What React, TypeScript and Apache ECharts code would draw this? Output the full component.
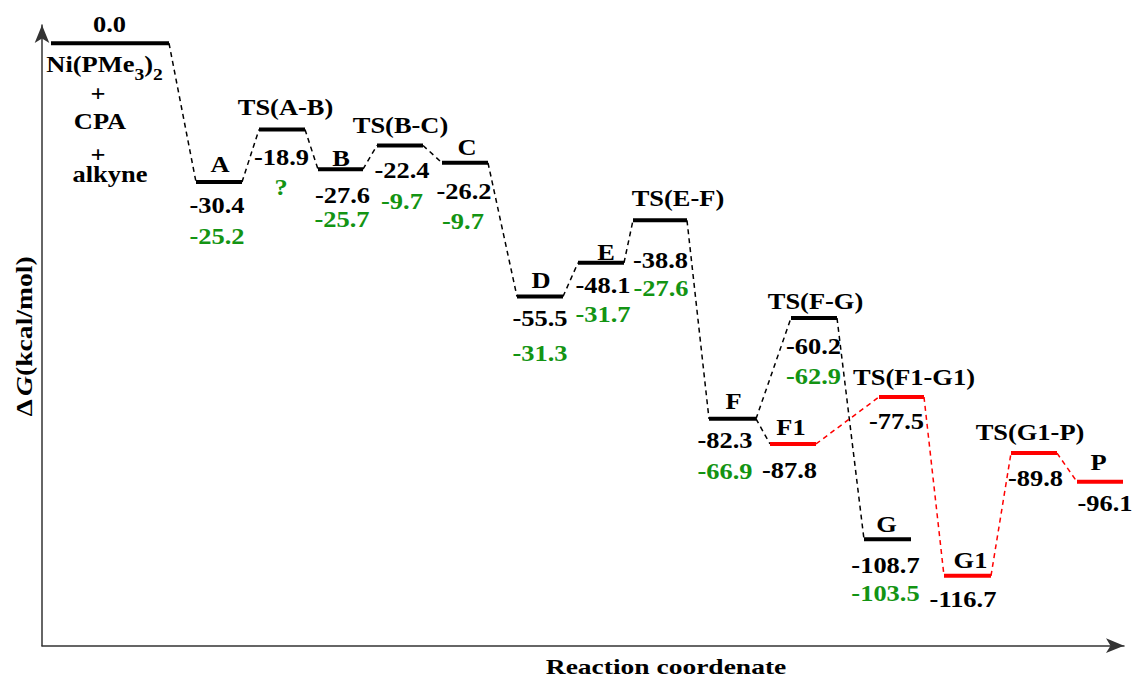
import React, { useEffect, useRef } from "react";
import * as echarts from "echarts";

// Free-energy profile of the Ni(PMe3)2 / CPA / alkyne reaction.
const STATE_NAMES = [
  "", "A", "TS(A-B)", "B", "TS(B-C)", "C", "D", "E", "TS(E-F)",
  "F", "TS(F-G)", "F1", "TS(F1-G1)", "G", "G1", "TS(G1-P)", "P",
];
const DELTA_G = [
  0.0, -30.4, -18.9, -27.6, -22.4, -26.2, -55.5, -48.1, -38.8,
  -82.3, -60.2, -87.8, -77.5, -108.7, -116.7, -89.8, -96.1,
];
// Second set of values (green); "?" where unknown, null where absent.
const DELTA_G_ALT: (number | string | null)[] = [
  null, -25.2, "?", -25.7, -9.7, -9.7, -31.3, -31.7, -27.6,
  -66.9, -62.9, null, null, -103.5, null, null, null,
];
// Extent of each state along the reaction coordinate.
const COORD_START = [9, 154, 217, 276, 335, 400, 475, 536, 591, 667, 749, 728, 837, 822, 902, 969, 1035];
const COORD_END = [127, 200, 263, 321, 381, 446, 521, 582, 645, 714, 795, 774, 882, 869, 949, 1015, 1081];
// "main" = black pathway, "alt" = red pathway
const PATHWAY = [
  "main", "main", "main", "main", "main", "main", "main", "main", "main",
  "main", "main", "alt", "alt", "main", "alt", "alt", "alt",
];
// Dashed connections between consecutive states [from, to]
const LINKS: [number, number][] = [
  [0, 1], [1, 2], [2, 3], [3, 4], [4, 5], [5, 6], [6, 7], [7, 8], [8, 9],
  [9, 10], [10, 13], [9, 11], [11, 12], [12, 14], [14, 15], [15, 16],
];
const REACTANT_LINES = ["{m|Ni(PMe}{s|3}{m|)}{s|2}", "+", "CPA", "+", "alkyne"];

// Label placement around each level: [nameDx, nameDy, valueDx, valueDy, altDx, altDy]
const LABEL_LAYOUT: number[][] = [
  [0, 0, -0.5, -18.8, 0, 0],
  [1, -17.6, -2, 22.9, -2, 54],
  [3.5, -22.1, -0.5, 27.9, -1, 57.4],
  [0.5, -11.5, 2, 26.2, 1.5, 50.2],
  [0.5, -20.1, 2, 24.9, 2, 55.9],
  [2, -15.4, -1, 28.6, -2, 58.6],
  [1, -16.2, 0, 21.8, 0, 56.3],
  [5, -10.4, 2, 22.1, 2, 51.1],
  [18, -21.9, 0.5, 39.6, 1, 68.1],
  [1, -17.5, -7.5, 21, -7.5, 52.5],
  [1.5, -17.1, -0.5, 27.9, -0.5, 57.9],
  [-2, -17.1, -3.5, 25.9, 0, 0],
  [12.5, -20.1, -5, 24.4, 0, 0],
  [-1, -15.5, -2, 25.5, -2, 54],
  [3, -16, -4.5, 23, 0, 0],
  [-4, -21.2, 1.5, 25.3, 0, 0],
  [-1.5, -19.5, 5, 21.5, 0, 0],
];
// Reactant text lines under the starting level: [dx, dy]
const REACTANT_LAYOUT: number[][] = [
  [-5.5, 21.2],
  [-12, 49.9],
  [-10, 78],
  [-12, 110.9],
  [0, 130.9],
];

const SERIF = "Liberation Serif";
const STRETCH = 1.15;
const PATH_COLORS: Record<string, string> = { main: "#000000", alt: "#ff0000" };
const GREEN = "#139413";
const AXIS_COLOR = "#333333";

function label(text: string, x: number, y: number, fill: string) {
  return {
    type: "text",
    x,
    y,
    scaleX: STRETCH,
    style: {
      text,
      align: "center",
      verticalAlign: "middle",
      fontFamily: SERIF,
      fontWeight: "bold",
      fontSize: 23,
      fill,
    },
  };
}

export default function App() {
  const ref = useRef<HTMLDivElement>(null);

  useEffect(() => {
    if (!ref.current) return;
    document.body.style.margin = "0";
    const chart = echarts.init(ref.current, null, { renderer: "svg" });

    const levelData = STATE_NAMES.map((_, i) => [COORD_START[i], COORD_END[i], DELTA_G[i], i]);
    const linkData = LINKS.map(([a, b]) => [COORD_END[a], DELTA_G[a], COORD_START[b], DELTA_G[b], a]);

    const option: any = {
      animation: false,
      grid: { left: 42, right: 10, top: 25, bottom: 31.3 },
      xAxis: {
        type: "value",
        min: 0,
        max: 1082,
        axisLine: {
          show: true,
          onZero: false,
          symbol: ["none", "arrow"],
          symbolSize: [11, 18],
          lineStyle: { color: AXIS_COLOR, width: 1.5 },
        },
        axisTick: { show: false },
        axisLabel: { show: false },
        splitLine: { show: false },
      },
      yAxis: {
        type: "value",
        min: -132,
        max: 4,
        axisLine: {
          show: true,
          onZero: false,
          symbol: ["none", "arrow"],
          symbolSize: [11, 18],
          lineStyle: { color: AXIS_COLOR, width: 1.5 },
        },
        axisTick: { show: false },
        axisLabel: { show: false },
        splitLine: { show: false },
      },
      graphic: [
        {
          type: "text",
          x: 24,
          y: 336.5,
          rotation: Math.PI / 2,
          scaleX: STRETCH,
          style: {
            text: "{d|Δ}{g|G}{u|(kcal/mol)}",
            align: "center",
            verticalAlign: "middle",
            fontFamily: SERIF,
            fontWeight: "bold",
            fontSize: 24,
            rich: {
              d: { fontFamily: SERIF, fontWeight: "bold", fontSize: 24, fill: "#000", padding: [0, 3, 0, 0] },
              g: { fontFamily: SERIF, fontWeight: "bold", fontStyle: "italic", fontSize: 24, fill: "#000" },
              u: { fontFamily: SERIF, fontWeight: "bold", fontSize: 24, fill: "#000" },
            },
          },
        },
        {
          type: "text",
          x: 666,
          y: 666,
          scaleX: 1.25,
          style: {
            text: "Reaction coordenate",
            align: "center",
            verticalAlign: "middle",
            fontFamily: SERIF,
            fontWeight: "bold",
            fontSize: 22,
            fill: "#000",
          },
        },
      ],
      series: [
        {
          type: "custom",
          name: "links",
          clip: false,
          encode: { x: [0, 2], y: [1, 3] },
          data: linkData,
          renderItem: (_params: any, api: any) => {
            const p0 = api.coord([api.value(0), api.value(1)]);
            const p1 = api.coord([api.value(2), api.value(3)]);
            const from = api.value(4) as number;
            return {
              type: "line",
              shape: { x1: p0[0], y1: p0[1], x2: p1[0], y2: p1[1] },
              style: {
                stroke: PATH_COLORS[PATHWAY[from]],
                lineWidth: 1.5,
                lineDash: [5, 4],
                fill: null,
              },
            };
          },
        },
        {
          type: "custom",
          name: "levels",
          clip: false,
          encode: { x: [0, 1], y: 2 },
          data: levelData,
          renderItem: (_params: any, api: any) => {
            const i = api.value(3) as number;
            const a = api.coord([api.value(0), api.value(2)]);
            const b = api.coord([api.value(1), api.value(2)]);
            const cx = (a[0] + b[0]) / 2;
            const y = a[1];
            const lay = LABEL_LAYOUT[i];
            const children: any[] = [
              {
                type: "line",
                shape: { x1: a[0], y1: y, x2: b[0], y2: y },
                style: { stroke: PATH_COLORS[PATHWAY[i]], lineWidth: 4 },
              },
            ];
            if (STATE_NAMES[i]) children.push(label(STATE_NAMES[i], cx + lay[0], y + lay[1], "#000"));
            children.push(label(DELTA_G[i].toFixed(1), cx + lay[2], y + lay[3], "#000"));
            const alt = DELTA_G_ALT[i];
            if (alt !== null) {
              const txt = typeof alt === "number" ? alt.toFixed(1) : alt;
              children.push(label(txt, cx + lay[4], y + lay[5], GREEN));
            }
            if (i === 0) {
              REACTANT_LINES.forEach((t, k) => {
                children.push({
                  type: "text",
                  x: cx + REACTANT_LAYOUT[k][0],
                  y: y + REACTANT_LAYOUT[k][1],
                  scaleX: STRETCH,
                  style: {
                    text: t.includes("{") ? t : `{m|${t}}`,
                    align: "center",
                    verticalAlign: "middle",
                    fontFamily: SERIF,
                    fontWeight: "bold",
                    fontSize: 23,
                    rich: {
                      m: { fontFamily: SERIF, fontWeight: "bold", fontSize: 23, fill: "#000" },
                      s: { fontFamily: SERIF, fontWeight: "bold", fontSize: 17, fill: "#000", padding: [20, 0, 0, 0] },
                    },
                  },
                });
              });
            }
            return { type: "group", children };
          },
        },
      ],
    };

    chart.setOption(option);
    return () => chart.dispose();
  }, []);

  return <div ref={ref} style={{ width: 1134, height: 677 }} />;
}
